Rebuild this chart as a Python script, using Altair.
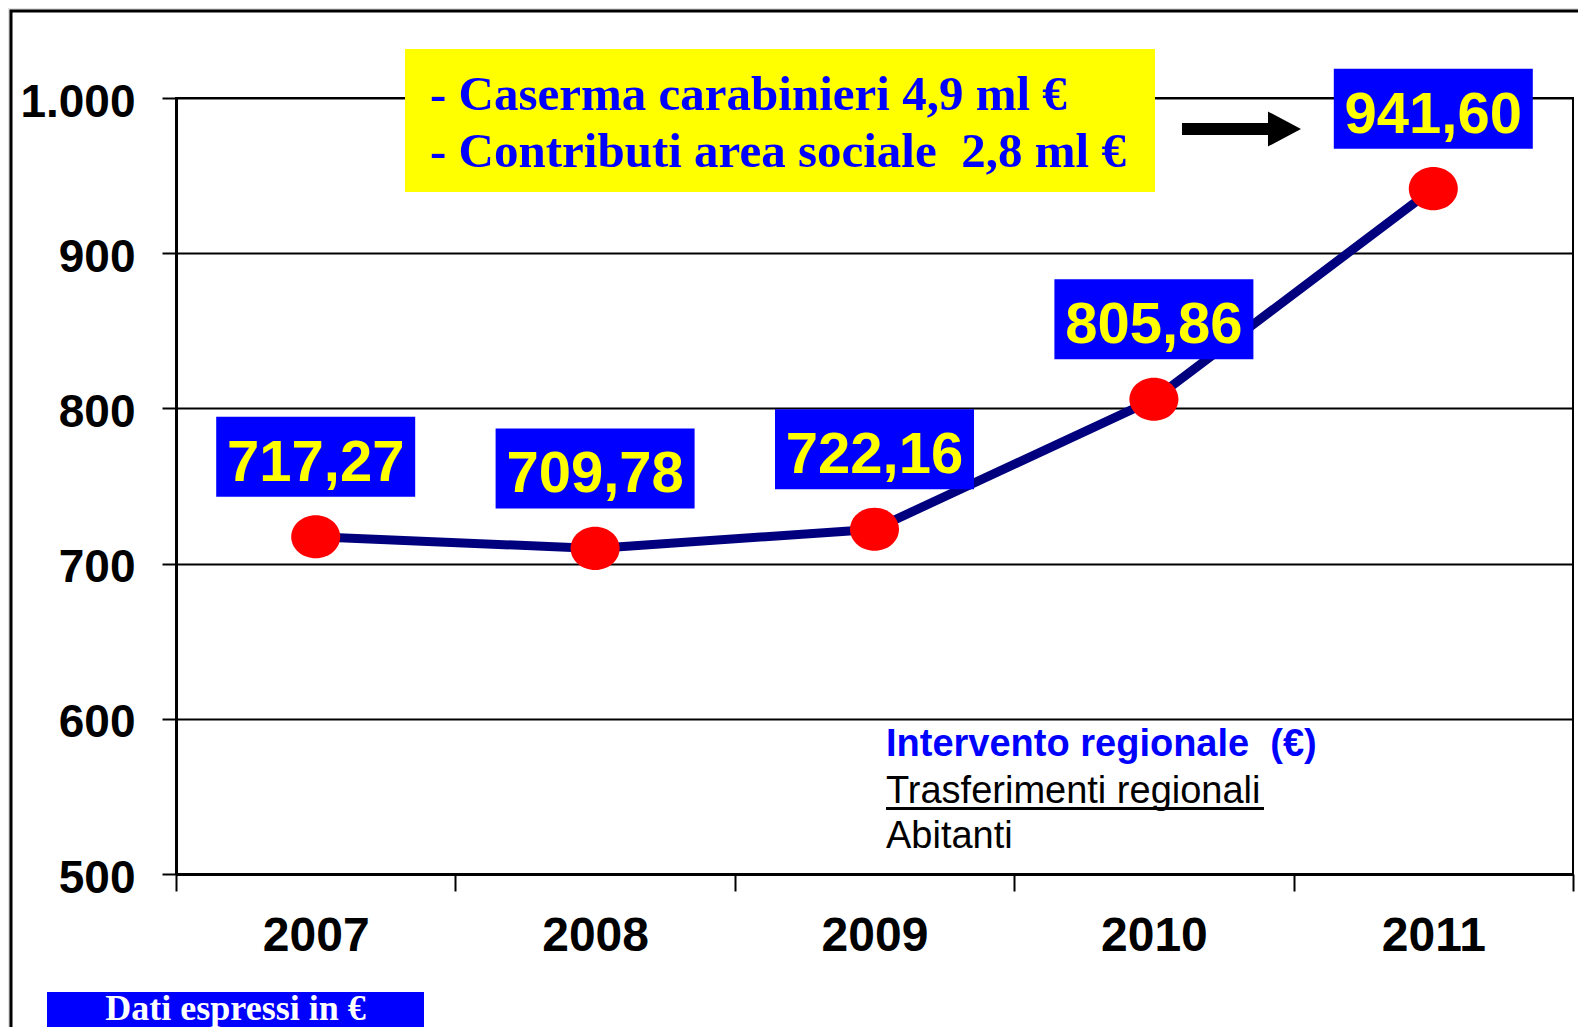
import altair as alt
import pandas as pd

# ---- data ----
years = ["2007", "2008", "2009", "2010", "2011"]
values = [717.27, 709.78, 722.16, 805.86, 941.60]
value_labels = ["717,27", "709,78", "722,16", "805,86", "941,60"]
y_ticks = [500, 600, 700, 800, 900, 1000]
note_lines = ["- Caserma carabinieri 4,9 ml €", "- Contributi area sociale \u00a02,8 ml €"]
legend_title = "Intervento regionale \u00a0(€)"
legend_lines = ["Trasferimenti regionali", "Abitanti"]
footnote = "Dati espressi in €"

df = pd.DataFrame({"year": years, "value": values, "label": value_labels})

W, H = 1397, 776
SANS = "Liberation Sans"
SERIF = "Liberation Serif"
LABEL_SHIFT = -80

ellipse = ("M 1 0 C 1 0.486 0.5523 0.88 0 0.88 C -0.5523 0.88 -1 0.486 -1 0 "
           "C -1 -0.486 -0.5523 -0.88 0 -0.88 C 0.5523 -0.88 1 -0.486 1 0 Z")
boxshape = "M -1 -0.402 L 1 -0.402 L 1 0.402 L -1 0.402 Z"
arrowshape = ("M -1 -0.101 L 0.445 -0.101 L 0.445 -0.294 L 1 0 L 0.445 0.294 "
              "L 0.445 0.101 L -1 0.101 Z")

x_enc = alt.X(
    "year:N",
    sort=years,
    scale=alt.Scale(paddingInner=0, paddingOuter=0),
    axis=alt.Axis(
        title=None, labelAngle=0, tickBand="extent", grid=False,
        domainColor="black", domainWidth=3, tickColor="black", tickWidth=2,
        tickSize=17, labelFont=SANS, labelFontSize=48, labelFontWeight="bold",
        labelColor="black", labelPadding=21,
    ),
)
y_enc = alt.Y(
    "value:Q",
    scale=alt.Scale(domain=[500, 1000], nice=False, zero=False),
    axis=alt.Axis(
        title=None, values=y_ticks, grid=True, gridColor="black", gridWidth=2,
        gridOpacity=1, domainColor="black", domainWidth=3, tickColor="black",
        tickWidth=2, tickSize=14, labelFont=SANS, labelFontSize=46,
        labelFontWeight="bold", labelColor="black", labelPadding=27,
        labelOffset=4,
        labelExpr="replace(datum.label, ',', '.')",
    ),
)

base = alt.Chart(df)

line = base.mark_line(color="#00007f", strokeWidth=9).encode(x=x_enc, y=y_enc)
dots = base.mark_point(shape=ellipse, filled=True, color="#ff0000", size=2401,
                       opacity=1, strokeWidth=0).encode(x=x_enc, y=y_enc)
boxes = base.mark_point(shape=boxshape, filled=True, color="#0000ff", size=39601,
                        opacity=1, strokeWidth=0, yOffset=LABEL_SHIFT).encode(x=x_enc, y=y_enc)
texts = base.mark_text(font=SANS, fontSize=58, fontWeight="bold", color="#ffff00",
                       baseline="middle", align="center",
                       yOffset=LABEL_SHIFT + 7).encode(x=x_enc, y=y_enc, text="label:N")

one = alt.Data(values=[{}])

gray_left = alt.Chart(one).mark_rect(color="#e2e2e2").encode(
    x=alt.value(-168), x2=alt.value(-165), y=alt.value(-90), y2=alt.value(1000))
gray_top = alt.Chart(one).mark_rect(color="#e2e2e2").encode(
    x=alt.value(-168), x2=alt.value(1500), y=alt.value(-90), y2=alt.value(-87))
frame = alt.Chart(one).mark_rect(fillOpacity=0, stroke="black", strokeWidth=3).encode(
    x=alt.value(-165), x2=alt.value(1500), y=alt.value(-87), y2=alt.value(1000))

note_box = alt.Chart(one).mark_rect(color="#ffff00").encode(
    x=alt.value(229), x2=alt.value(979), y=alt.value(-49), y2=alt.value(94))
note_text = alt.Chart(one).mark_text(
    text=note_lines, font=SERIF, fontSize=49, fontWeight="bold", color="#0000ff",
    align="left", baseline="alphabetic", lineHeight=57,
).encode(x=alt.value(254), y=alt.value(12))
arrow = alt.Chart(one).mark_point(shape=arrowshape, filled=True, color="black",
                                  size=14161, opacity=1, strokeWidth=0).encode(
    x=alt.value(1065.5), y=alt.value(31))

leg1 = alt.Chart(one).mark_text(
    text=legend_title, font=SANS, fontSize=38, fontWeight="bold", color="#0000ff",
    align="left", baseline="alphabetic").encode(x=alt.value(710), y=alt.value(658))
leg2 = alt.Chart(one).mark_text(
    text=legend_lines, font=SANS, fontSize=38, color="black",
    align="left", baseline="alphabetic", lineHeight=45).encode(x=alt.value(710), y=alt.value(705))
underline = alt.Chart(one).mark_rule(color="black", strokeWidth=3).encode(
    x=alt.value(710), x2=alt.value(1088), y=alt.value(710.5))

foot_box = alt.Chart(one).mark_rect(color="#0000ff").encode(
    x=alt.value(-129), x2=alt.value(248), y=alt.value(894), y2=alt.value(940))
foot_text = alt.Chart(one).mark_text(
    text=footnote, font=SERIF, fontSize=36, fontWeight="bold", color="white",
    align="center", baseline="alphabetic").encode(x=alt.value(59.5), y=alt.value(922))

chart = alt.layer(
    gray_left, gray_top, frame, line, dots, boxes, texts,
    note_box, note_text, arrow, leg1, leg2, underline, foot_box, foot_text,
).properties(
    width=W, height=H,
    autosize=alt.AutoSizeParams(type="none"),
    padding={"left": 168, "top": 90, "right": 5, "bottom": 153},
    background="white",
).configure_view(stroke="black", strokeWidth=2)

chart.save("out.html", embed_options={"renderer": "svg", "actions": False})
